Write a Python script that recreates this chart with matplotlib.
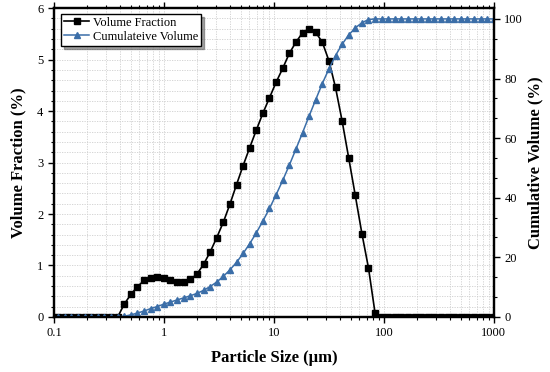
import numpy as np
import matplotlib.pyplot as plt
from matplotlib.ticker import AutoMinorLocator, LogLocator, FixedLocator, NullFormatter

plt.rcParams['font.family'] = ['Liberation Serif', 'DejaVu Serif']

# particle size classes (um)
sizes = [0.0955, 0.1096, 0.1259, 0.1445, 0.1660, 0.1905, 0.2188, 0.2512, 0.2884, 0.3311,
         0.3802, 0.4365, 0.5012, 0.5754, 0.6607, 0.7586, 0.8710, 1.000, 1.148, 1.318,
         1.514, 1.738, 1.995, 2.291, 2.630, 3.020, 3.467, 3.981, 4.571, 5.248,
         6.026, 6.918, 7.943, 9.120, 10.47, 12.02, 13.80, 15.85, 18.20, 20.89,
         23.99, 27.54, 31.62, 36.31, 41.69, 47.86, 54.95, 63.10, 72.44, 83.18,
         95.50, 109.6, 125.9, 144.5, 166.0, 190.5, 218.8, 251.2, 288.4, 331.1,
         380.2, 436.5, 501.2, 575.4, 660.7, 758.6, 871.0, 1000.0]

# volume fraction (%)
vol_frac = [0, 0, 0, 0, 0, 0, 0, 0, 0, 0,
            0, 0.25, 0.44, 0.59, 0.71, 0.76, 0.77, 0.76, 0.72, 0.68,
            0.68, 0.73, 0.83, 1.02, 1.26, 1.54, 1.84, 2.19, 2.57, 2.94,
            3.29, 3.63, 3.96, 4.26, 4.56, 4.83, 5.12, 5.34, 5.52, 5.60,
            5.53, 5.34, 4.98, 4.46, 3.81, 3.09, 2.36, 1.62, 0.95, 0.07,
            0, 0, 0, 0, 0, 0, 0, 0, 0, 0,
            0, 0, 0, 0, 0, 0, 0, 0]

# cumulative volume (%)
cum_vol = [0, 0, 0, 0, 0, 0, 0, 0, 0, 0,
           0, 0.25, 0.7, 1.3, 2.0, 2.8, 3.5, 4.3, 5.0, 5.7,
           6.4, 7.1, 7.9, 8.9, 10.2, 11.7, 13.6, 15.8, 18.3, 21.3,
           24.6, 28.2, 32.2, 36.4, 41.0, 45.8, 50.9, 56.3, 61.8, 67.4,
           72.9, 78.3, 83.2, 87.7, 91.5, 94.6, 97.0, 98.7, 99.8, 100,
           100, 100, 100, 100, 100, 100, 100, 100, 100, 100,
           100, 100, 100, 100, 100, 100, 100, 100]

blue = '#3b6ea8'

fig = plt.figure(figsize=(5.5, 3.72), dpi=100)
ax = fig.add_axes([0.098, 0.148, 0.80, 0.83])
ax2 = ax.twinx()

l1, = ax.plot(sizes, vol_frac, color='black', marker='s', markersize=4.2,
              linewidth=1.2, label='Volume Fraction')
l2, = ax2.plot(sizes, cum_vol, color=blue, marker='^', markersize=4.2,
               linewidth=1.1, label='Cumulateive Volume')

ax.set_xscale('log')
ax.set_xlim(0.1, 1000)
ax.set_ylim(0, 6)
ax2.set_ylim(0, 103.6)

ax.xaxis.set_major_locator(FixedLocator([0.1, 1, 10, 100, 1000]))
ax.set_xticklabels(['0.1', '1', '10', '100', '1000'])
ax.xaxis.set_minor_locator(LogLocator(base=10, subs=np.arange(2, 10)))
ax.xaxis.set_minor_formatter(NullFormatter())
ax.yaxis.set_minor_locator(AutoMinorLocator(5))
ax2.set_yticks([0, 20, 40, 60, 80, 100])
ax2.yaxis.set_minor_locator(AutoMinorLocator(3))

ax.grid(True, which='both', color='#cfcfcf', linestyle=(0, (1.5, 1.5)), linewidth=0.6)
ax.set_axisbelow(True)

for a in (ax, ax2):
    for s in a.spines.values():
        s.set_linewidth(1.6)
    a.tick_params(which='major', direction='out', length=4, width=1.0, labelsize=9)
    a.tick_params(which='minor', direction='out', length=2.5, width=0.8)
ax.tick_params(which='both', top=True)

ax.set_xlabel('Particle Size (\u03bcm)', fontsize=12, fontweight='bold', labelpad=8)
ax.set_ylabel('Volume Fraction (%)', fontsize=12, fontweight='bold', labelpad=8)
ax2.set_ylabel('Cumulative Volume (%)', fontsize=12, fontweight='bold', labelpad=3)

leg = ax.legend(handles=[l1, l2], loc='upper left', fontsize=9, frameon=True,
                fancybox=False, shadow=True, borderpad=0.25, handlelength=2.0,
                handletextpad=0.3, labelspacing=0.15, borderaxespad=0,
                bbox_to_anchor=(0.016, 0.982))
leg.get_frame().set_edgecolor('black')
leg.get_frame().set_linewidth(1.0)

fig.savefig('out.png', dpi=100)
